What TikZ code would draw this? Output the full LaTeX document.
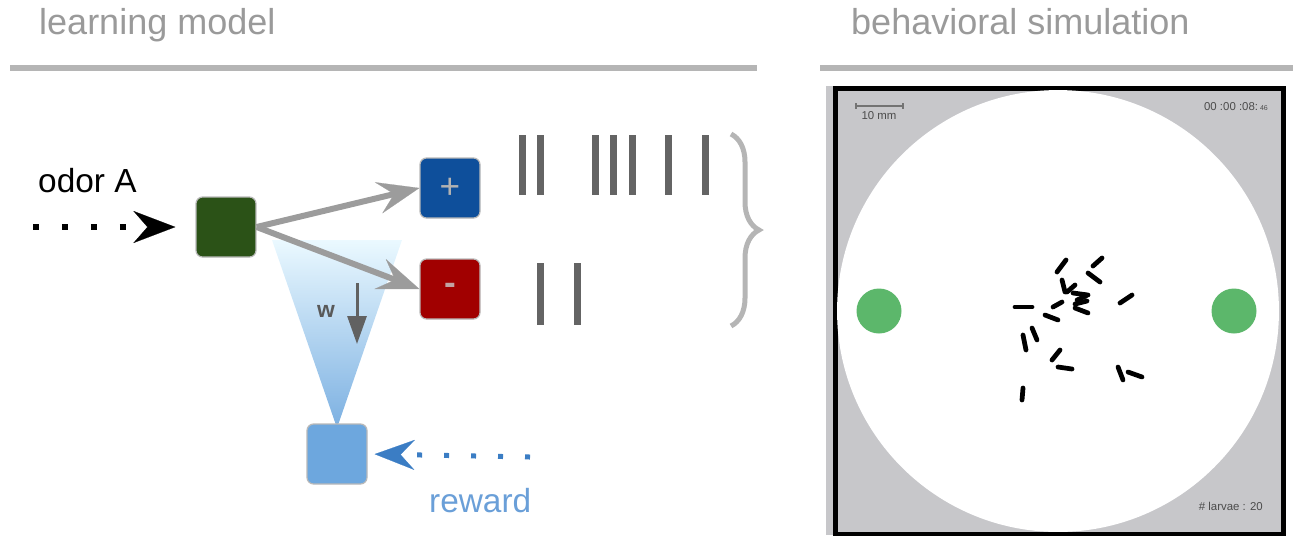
\documentclass[tikz,border=0pt]{standalone}
\usepackage{fontspec}
\setmainfont{Liberation Sans}
\usetikzlibrary{arrows.meta,decorations.pathreplacing,positioning}
\definecolor{colorttl}{HTML}{9A9A9A}
\definecolor{colorrule}{HTML}{B5B5B5}
\definecolor{colorodor}{HTML}{2B5217}
\definecolor{colorpos}{HTML}{0E4F9B}
\definecolor{colorneg}{HTML}{A10000}
\definecolor{colorrew}{HTML}{6DA7DE}
\definecolor{colorrewtxt}{HTML}{6A9FD8}
\definecolor{colorrewarr}{HTML}{3B7DC4}
\definecolor{colorsyn}{HTML}{9C9C9C}
\definecolor{colorspike}{HTML}{646464}
\definecolor{colorarena}{HTML}{C7C7CA}
\definecolor{colorsrc}{HTML}{5CB76B}
\tikzset{
  unit/.style={minimum size=1.2cm, rounded corners=0.13cm, draw=gray!55, line width=0.7pt},
  title/.style={anchor=base west, colorttl, font=\fontsize{20.5}{24}\selectfont},
  rule/.style={colorrule, line width=0.11cm},
  edgeodor/.style={black, line width=0.12cm, dash pattern=on 0.12cm off 0.46cm,
    -{Stealth[length=0.84cm, width=0.64cm, inset=0.28cm, line width=0.1pt]}},
  edgerew/.style={colorrewarr, line width=0.1cm, dash pattern=on 0.1cm off 0.44cm,
    -{Stealth[length=0.8cm, width=0.6cm, inset=0.28cm, line width=0.1pt]}},
  edgesyn/.style={colorsyn, line width=0.12cm,
    -{Stealth[length=0.84cm, width=0.64cm, inset=0.32cm, line width=0.1pt]}},
  edgew/.style={black!62, line width=0.06cm, -{Triangle[length=0.56cm, width=0.38cm]}},
  spike/.style={colorspike, line width=0.14cm},
  larva/.style={black, line width=0.095cm, line cap=round},
  arenatxt/.style={black!70, font=\fontsize{6.5}{7}\selectfont}
}

\begin{document}
\begin{tikzpicture}[x=0.02cm, y=-0.02cm]
\useasboundingbox (0,0) rectangle (1293,535);

% headers
\node[title] (tlearn) at (33,34) {learning model};
\node[title] (tsim) at (845,34) {behavioral simulation};
\draw[rule] (10,68) -- (757,68);
\draw[rule] (820,68) -- (1293,68);

% learning model
\shade[top color=blue!30!cyan!8, bottom color=colorrew!90] (272,240) -- (402,240) -- (337,428) -- cycle;
\node[unit, fill=colorodor] (odor) at (226,227) {};
\node[unit, fill=colorpos, text=gray!60, font=\fontsize{20}{20}\selectfont] (pos) at (450,188) {+};
\node[unit, fill=colorneg, text=red!20!gray!60, font=\fontsize{20}{20}\selectfont\bfseries] (neg) at (450,289) {-};
\node[unit, fill=colorrew] (rew) at (337,454) {};

\node[anchor=base west, font=\fontsize{19}{22}\selectfont] (odorlbl) at (32,192) {odor A};
\node[anchor=base west, colorrewtxt, font=\fontsize{19}{22}\selectfont] (rewlbl) at (423,512) {reward};

\coordinate (odorsrc) at (33,227);
\coordinate (rewsrc) at (530,457);
\draw[edgeodor] (odorsrc) -- (odor.west) [shorten >=0.4cm];
\draw[edgerew] (rewsrc) -- (rew.east) [shorten >=0.14cm];
\draw[edgesyn] (odor.east) -- (pos.west);
\draw[edgesyn] (odor.east) -- (neg.west);

% weight change
\coordinate (wtop) at (357,283);
\coordinate (wbot) at (357,344);
\draw[edgew] (wtop) -- (wbot);
\node[black!65, font=\fontsize{13}{13}\selectfont\bfseries] (wlbl) at (326,311) {w};

% spike trains
\foreach \x in {522,540,595,613,632,668,705}
  \draw[spike] (\x,135) -- (\x,195);
\foreach \x in {540,577}
  \draw[spike] (\x,263) -- (\x,325);
\draw[colorrule, line width=0.1cm, decorate, decoration={brace, amplitude=0.56cm}] (731,134) -- (731,326);

% behavioral simulation
\fill[colorarena] (826,86) rectangle (833,535);
\draw[fill=colorarena, line width=0.1cm] (835,88) rectangle (1283,534);
\fill[white] (1058,311) circle[radius=4.42cm];
\fill[colorsrc] (879,311) circle[radius=0.45cm];
\fill[colorsrc] (1234,311) circle[radius=0.45cm];

\draw[black!55, line width=0.6pt] (856,106) -- (903,106);
\draw[black!55, line width=0.6pt] (856,103) -- (856,109) (903,103) -- (903,109);
\node[arenatxt] (scale) at (879,116) {10 mm};
\node[arenatxt, anchor=east] (clock) at (1274,107) {00 :00 :08:\,{\fontsize{4}{4}\selectfont 46}};
\node[arenatxt, anchor=east] (count) at (1269,506) {\# larvae : 20};

\foreach \a/\b/\c/\d in {1057/272/1066/260, 1093/266/1102/258, 1088/273/1100/282,
  1062/280/1065/292, 1067/292/1075/285, 1073/293/1088/295, 1077/300/1086/296,
  1075/304/1087/301, 1075/308/1088/313, 1120/303/1132/295, 1015/307/1032/307,
  1053/307/1062/302, 1045/315/1058/320, 1023/335/1026/350, 1032/328/1037/340,
  1052/360/1060/350, 1058/367/1072/369, 1118/367/1123/380, 1128/372/1142/377,
  1022/400/1023/388}
  \draw[larva] (\a,\b) -- (\c,\d);
\end{tikzpicture}
\end{document}
